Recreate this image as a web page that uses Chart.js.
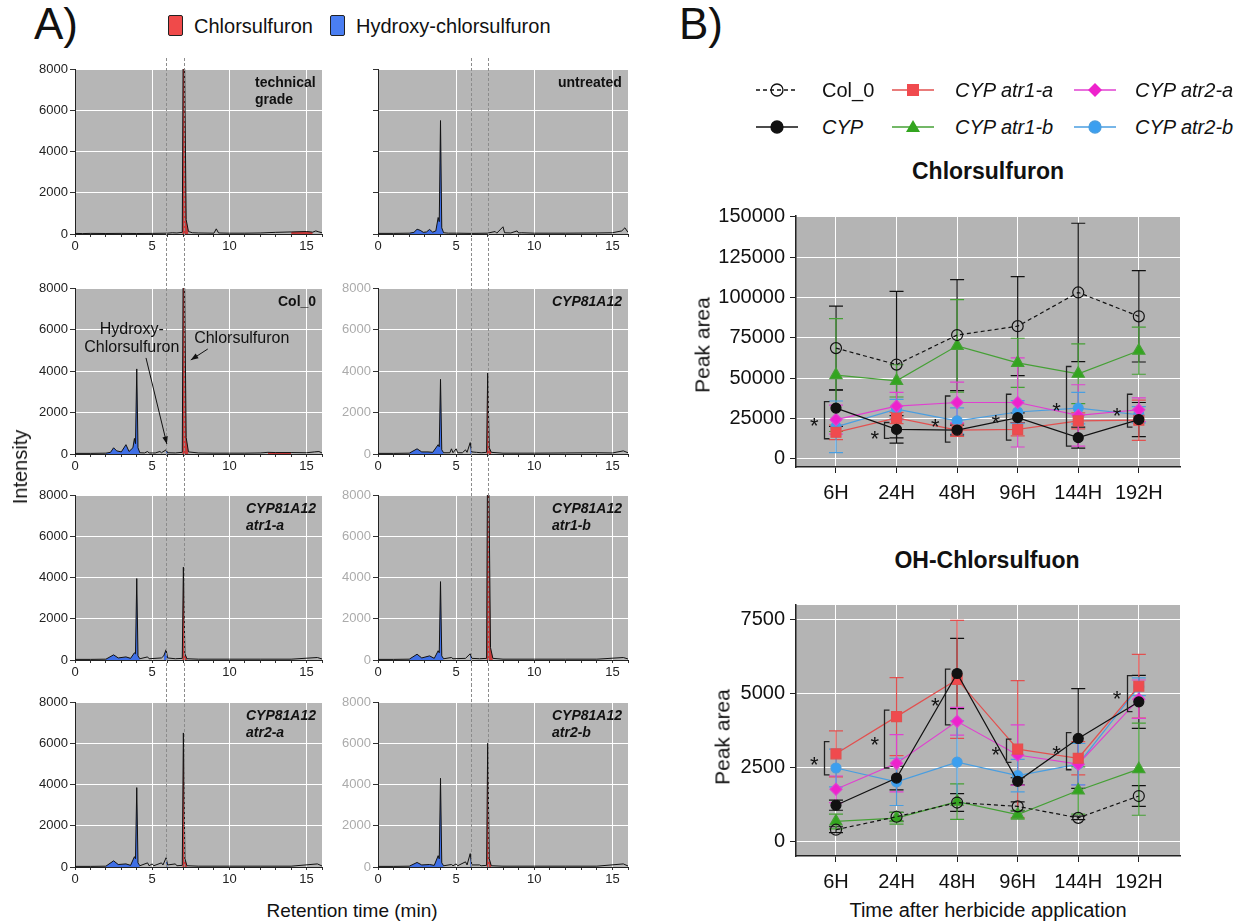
<!DOCTYPE html>
<html>
<head>
<meta charset="utf-8">
<script src="https://cdn.jsdelivr.net/npm/chart.js@4.4.1/dist/chart.umd.min.js"></script>
<style>
  body { margin: 0; background: #fff; }
  #fig { position: relative; width: 1241px; height: 924px; overflow: hidden; font-family: "Liberation Sans", Arial, sans-serif; color: #111; }
  #fig canvas { position: absolute; }
  .t { position: absolute; white-space: nowrap; line-height: 1; }
  .lab { position: absolute; font-weight: bold; font-size: 14px; line-height: 17px; text-align: left; }
  .rot { transform: translate(-50%, -50%) rotate(-90deg); }
  .ctr { transform: translate(-50%, -50%); }
</style>
</head>
<body>
<div id="fig"></div>
<script>
const FONT = '"Liberation Sans", Arial, sans-serif';

// ---------- panel A : chromatograms (time in min, intensity) ----------
const tgTrace = [[0,30],[0.5,20],[1,30],[2,25],[3,30],[4,25],[5,30],[6,40],[6.3,60],[6.6,50],[6.95,80],[7.0,8200],[7.1,8200],[7.2,700],[7.35,120],[7.6,60],[8,50],[9,40],[9.15,250],[9.3,50],[10,40],[11,40],[12,50],[13,80],[14,100],[15,120],[15.4,90],[15.6,150],[15.8,100],[16,60]];
const untreatedTrace = [[0,30],[1,30],[2,40],[2.3,80],[2.5,230],[2.7,180],[2.9,80],[3.1,100],[3.3,220],[3.5,90],[3.7,150],[3.85,800],[3.92,600],[4.0,5500],[4.08,300],[4.2,60],[4.5,40],[5,40],[6,30],[7,40],[7.5,120],[7.6,40],[8.0,350],[8.1,60],[8.5,50],[8.9,150],[9.0,50],[9.2,60],[10,40],[12,40],[14,50],[15,60],[15.6,150],[15.8,300],[16,80]];
const col0Trace = [[0,30],[1,30],[2,40],[2.3,80],[2.5,300],[2.7,150],[3.0,100],[3.3,450],[3.5,120],[3.75,300],[3.85,750],[3.92,500],[4.0,4100],[4.08,300],[4.2,60],[4.5,50],[4.7,120],[4.8,50],[5.2,50],[5.5,120],[5.6,60],[5.9,200],[6.0,60],[6.5,50],[6.95,80],[7.0,8200],[7.1,8200],[7.2,800],[7.35,100],[8,50],[9,40],[10,40],[11,40],[12,50],[12.5,80],[13,70],[14,70],[15,60],[15.5,100],[15.8,120],[16,50]];
const cypTrace = [[0,30],[1,30],[2,40],[2.5,250],[2.8,100],[3.2,100],[3.5,80],[3.85,450],[3.92,350],[4.0,3600],[4.08,200],[4.2,60],[4.6,60],[4.7,250],[4.8,60],[5.0,250],[5.1,60],[5.4,60],[5.6,200],[5.7,80],[5.9,550],[6.0,100],[6.3,80],[6.6,60],[6.95,80],[7.02,3900],[7.12,300],[7.25,80],[8,40],[10,40],[12,50],[14,60],[15,50],[15.7,150],[16,60]];
const atr1aTrace = [[0,30],[1,30],[2,40],[2.5,250],[2.8,100],[3.3,150],[3.6,80],[3.85,350],[3.92,300],[4.0,3950],[4.08,200],[4.2,60],[4.7,150],[4.8,60],[5.6,100],[5.75,200],[5.9,500],[6.0,100],[6.5,60],[6.95,80],[7.02,4500],[7.12,300],[7.25,60],[8,40],[10,40],[12,40],[14,40],[15.7,120],[16,50]];
const atr1bTrace = [[0,30],[1,30],[2,40],[2.5,280],[2.8,100],[3.3,200],[3.6,80],[3.85,450],[3.92,350],[4.0,3800],[4.08,200],[4.2,60],[4.7,120],[4.8,60],[5.6,80],[5.9,300],[6.0,80],[6.5,60],[6.95,80],[7.0,8200],[7.1,8200],[7.2,600],[7.35,80],[8,40],[10,40],[12,40],[14,40],[15.7,120],[16,50]];
const atr2aTrace = [[0,30],[1,30],[2,40],[2.5,300],[2.8,120],[3.3,150],[3.6,80],[3.85,500],[3.92,400],[4.0,3850],[4.08,200],[4.2,60],[4.7,200],[4.8,60],[5.0,150],[5.1,60],[5.6,200],[5.7,100],[5.9,450],[6.0,100],[6.5,150],[6.6,60],[6.95,80],[7.02,6500],[7.12,400],[7.25,60],[8,40],[10,40],[12,40],[14,40],[15.7,150],[16,50]];
const atr2bTrace = [[0,30],[1,30],[2,40],[2.5,220],[2.8,100],[3.3,120],[3.6,80],[3.85,550],[3.92,400],[4.0,4300],[4.08,200],[4.2,60],[4.7,120],[4.8,60],[5.0,150],[5.1,60],[5.6,250],[5.7,100],[5.9,650],[6.0,100],[6.5,100],[6.6,60],[6.95,80],[7.02,6000],[7.12,400],[7.25,60],[8,40],[10,40],[12,40],[14,40],[15.7,150],[16,50]];

const minuteTicks = [0,1,2,3,4,5,6,7,8,9,10,11,12,13,14,15,16];
const retLabelTicks = [0, 5, 10, 15];
const intensityTicks = [0, 2000, 4000, 6000, 8000];
const refTimes = [5.92, 7.05];

// ---------- panel B : peak areas ----------
const times = ['6H', '24H', '48H', '96H', '144H', '192H'];
const seriesNames = ['Col_0', 'CYP', 'CYP atr1-a', 'CYP atr1-b', 'CYP atr2-a', 'CYP atr2-b'];

const col0Ch = [68700, 58500, 76800, 82300, 103200, 88400];
const col0ChSd = [26000, 45400, 34400, 30700, 42900, 28300];
const cypCh = [31500, 18300, 17900, 25600, 13200, 24400];
const cypChSd = [11400, 8500, 3000, 3000, 6500, 10600];
const a1aCh = [16500, 25400, 17900, 18300, 23600, 24000];
const a1aChSd = [4500, 3500, 4000, 4000, 5000, 12500];
const a1bCh = [52000, 48400, 70100, 59600, 52800, 67100];
const a1bChSd = [35000, 10000, 28700, 15200, 18500, 14600];
const a2aCh = [24400, 32700, 35000, 35000, 27000, 30500];
const a2aChSd = [9000, 8500, 12600, 27600, 19000, 7300];
const a2bCh = [19900, 30900, 23600, 29100, 31500, 27400];
const a2bChSd = [16000, 6000, 8000, 7000, 9800, 5000];

const col0OH = [390, 830, 1310, 1180, 790, 1530];
const col0OHSd = [100, 150, 300, 150, 60, 350];
const cypOH = [1220, 2140, 5680, 2030, 3480, 4720];
const cypOHSd = [170, 400, 1190, 120, 1690, 900];
const a1aOH = [2960, 4220, 5480, 3120, 2810, 5250];
const a1aOHSd = [780, 1320, 2000, 2320, 560, 1080];
const a1bOH = [670, 780, 1340, 900, 1720, 2440];
const a1bOHSd = [250, 200, 600, 150, 800, 1560];
const a2aOH = [1760, 2640, 4060, 2920, 2610, 4810];
const a2aOHSd = [450, 970, 470, 1020, 700, 650];
const a2bOH = [2480, 2010, 2680, 2220, 2610, 5230];
const a2bOHSd = [640, 800, 1400, 550, 700, 300];

const chTicks = [0, 25000, 50000, 75000, 100000, 125000, 150000];
const ohTicks = [0, 2500, 5000, 7500];

// significance: [time index, bracket low, bracket high, asterisk y]
const sigCh = [[0, 12500, 35500, 23800], [1, 12800, 22600, 15800], [2, 10400, 39000, 23200], [3, 11600, 40100, 25600], [4, 8000, 57300, 33000], [5, 19700, 40100, 29900]];
const sigOH = [[0, 2250, 3370, 2760], [1, 2480, 4440, 3420], [2, 3940, 5830, 4750], [3, 2670, 3460, 3090], [4, 2420, 3680, 3140], [5, 4390, 5610, 4980]];

const seriesStyle = [
  { line: '#111', fill: 'rgba(0,0,0,0)', shape: 'circle', r: 5.5, dash: [4, 3] },
  { line: '#111', fill: '#111', shape: 'circle', r: 5 },
  { line: '#e2504f', fill: '#f04a4e', shape: 'rect', r: 7 },
  { line: '#45a035', fill: '#33a51f', shape: 'triangle', r: 7 },
  { line: '#e040d0', fill: '#ee22cc', shape: 'rectRot', r: 6 },
  { line: '#4a9ee0', fill: '#3b9ff0', shape: 'circle', r: 5 },
];

const fig = document.getElementById('fig');

function canvasAt(left, top, w, h) {
  const c = document.createElement('canvas');
  c.width = w; c.height = h;
  c.style.left = left + 'px'; c.style.top = top + 'px';
  c.style.width = w + 'px'; c.style.height = h + 'px';
  fig.appendChild(c);
  return c;
}

function text(html, left, top, style, cls) {
  const d = document.createElement('div');
  d.className = cls || 't';
  d.innerHTML = html;
  d.style.left = left + 'px';
  d.style.top = top + 'px';
  Object.assign(d.style, style || {});
  fig.appendChild(d);
  return d;
}

// ---------- plugins ----------
const plotBg = {
  id: 'plotBg',
  beforeDraw(chart, args, opts) {
    const { ctx, chartArea: a } = chart;
    ctx.save();
    ctx.fillStyle = opts.color;
    ctx.fillRect(a.left, a.top, a.width, a.height);
    ctx.restore();
  }
};

const refLines = {
  id: 'refLines',
  afterDatasetsDraw(chart, args, opts) {
    const { ctx, scales: { x } } = chart;
    ctx.save();
    ctx.strokeStyle = '#8c8c8c';
    ctx.lineWidth = 1;
    ctx.setLineDash([3, 2]);
    opts.times.forEach(t => {
      const px = Math.round(x.getPixelForValue(t)) + 0.5;
      ctx.beginPath();
      ctx.moveTo(px, 0);
      ctx.lineTo(px, opts.toAxis ? chart.chartArea.bottom : chart.height);
      ctx.stroke();
    });
    ctx.restore();
  }
};

const notes = {
  id: 'notes',
  afterDatasetsDraw(chart, args, opts) {
    if (!opts.texts) return;
    const { ctx, scales: { x, y } } = chart;
    ctx.save();
    ctx.fillStyle = '#111';
    ctx.strokeStyle = '#111';
    ctx.font = '16px ' + FONT;
    ctx.textAlign = 'center';
    ctx.textBaseline = 'middle';
    opts.texts.forEach(([s, tx, ty]) => ctx.fillText(s, x.getPixelForValue(tx), y.getPixelForValue(ty)));
    opts.arrows.forEach(([x1, y1, x2, y2]) => {
      const ax = x.getPixelForValue(x1), ay = y.getPixelForValue(y1);
      const bx = x.getPixelForValue(x2), by = y.getPixelForValue(y2);
      const ang = Math.atan2(by - ay, bx - ax);
      ctx.lineWidth = 1;
      ctx.beginPath(); ctx.moveTo(ax, ay); ctx.lineTo(bx, by); ctx.stroke();
      ctx.beginPath();
      ctx.moveTo(bx, by);
      ctx.lineTo(bx - 8 * Math.cos(ang - 0.35), by - 8 * Math.sin(ang - 0.35));
      ctx.lineTo(bx - 8 * Math.cos(ang + 0.35), by - 8 * Math.sin(ang + 0.35));
      ctx.closePath(); ctx.fill();
    });
    ctx.restore();
  }
};

const errBars = {
  id: 'errBars',
  beforeDatasetsDraw(chart) {
    const { ctx, chartArea: a, scales: { x, y } } = chart;
    ctx.save();
    ctx.beginPath(); ctx.rect(a.left, a.top, a.width, a.height); ctx.clip();
    chart.data.datasets.forEach(ds => {
      ctx.strokeStyle = ds.borderColor;
      ctx.lineWidth = 1.2;
      ds.data.forEach((p, i) => {
        const px = x.getPixelForValue(p.x);
        const top = y.getPixelForValue(p.y + ds.sd[i]);
        const bot = y.getPixelForValue(p.y - ds.sd[i]);
        ctx.beginPath();
        ctx.moveTo(px, top); ctx.lineTo(px, bot);
        ctx.moveTo(px - 7, top); ctx.lineTo(px + 7, top);
        ctx.moveTo(px - 7, bot); ctx.lineTo(px + 7, bot);
        ctx.stroke();
      });
    });
    ctx.restore();
  }
};

const sigMarks = {
  id: 'sigMarks',
  afterDatasetsDraw(chart, args, opts) {
    const { ctx, scales: { x, y } } = chart;
    ctx.save();
    ctx.strokeStyle = '#222';
    ctx.fillStyle = '#111';
    ctx.lineWidth = 1.3;
    ctx.font = '22px ' + FONT;
    ctx.textAlign = 'center';
    ctx.textBaseline = 'middle';
    opts.marks.forEach(([i, lo, hi, sy]) => {
      const bx = Math.round(x.getPixelForValue(i - 0.2)) + 0.5;
      const yl = y.getPixelForValue(lo), yh = y.getPixelForValue(hi);
      ctx.beginPath();
      ctx.moveTo(bx + 5, yh); ctx.lineTo(bx, yh); ctx.lineTo(bx, yl); ctx.lineTo(bx + 5, yl);
      ctx.stroke();
      ctx.fillText('*', x.getPixelForValue(i - 0.36), y.getPixelForValue(sy) + 6);
    });
    ctx.restore();
  }
};

// ---------- panel A layout ----------
const colLeft = [75, 378], colW = [247, 250];
const rowTop = [69, 288, 495, 702], rowH = [165, 166, 165, 165];
const yAxisW = 52, xAxisH = 24;

const chromPanels = [
  { trace: tgTrace, blue: [], red: [[6.9, 7.4], [13.5, 15.5]], yLab: 1, notes: {} },
  { trace: untreatedTrace, blue: [[2.0, 4.25]], red: [], yLab: 0, notes: {} },
  { trace: col0Trace, blue: [[2.0, 4.25], [5.75, 6.05]], red: [[6.9, 7.4], [12.3, 14.5]], yLab: 1,
    notes: { texts: [['Hydroxy-', 3.68, 5980], ['Chlorsulfuron', 3.68, 5110], ['Chlorsulfuron', 10.8, 5540]],
             arrows: [[4.6, 4630, 5.95, 480], [8.6, 5060, 7.5, 4530]] } },
  { trace: cypTrace, blue: [[2.0, 4.25], [5.75, 6.05]], red: [[6.9, 7.3]], yLab: 2, notes: {} },
  { trace: atr1aTrace, blue: [[2.0, 4.25], [5.7, 6.05]], red: [[6.9, 7.3]], yLab: 1, notes: {} },
  { trace: atr1bTrace, blue: [[2.0, 4.25], [5.75, 6.05]], red: [[6.9, 7.4]], yLab: 2, notes: {} },
  { trace: atr2aTrace, blue: [[2.0, 4.25], [5.75, 6.05]], red: [[6.9, 7.3]], yLab: 1, notes: {} },
  { trace: atr2bTrace, blue: [[2.0, 4.25], [5.75, 6.05]], red: [[6.9, 7.3]], yLab: 2, notes: {} },
];

chromPanels.forEach((p, k) => {
  const r = Math.floor(k / 2), c = k % 2;
  const plotW = colW[c], plotH = rowH[r];
  const pad = r === 0 ? 11 : rowTop[r] - (rowTop[r - 1] + rowH[r - 1] + xAxisH);
  const cv = canvasAt(colLeft[c] - yAxisW, rowTop[r] - pad, yAxisW + plotW + 8, pad + plotH + xAxisH);
  const pts = p.trace.map(([x, y]) => ({ x, y }));
  const seg = (wins, color) => wins.map(([a, b]) => ({
    data: pts.filter(q => q.x >= a && q.x <= b),
    fill: 'origin', backgroundColor: color, borderWidth: 0, pointRadius: 0
  }));
  const yColor = ['rgba(0,0,0,0)', '#222', '#ababab'][p.yLab];
  new Chart(cv, {
    type: 'line',
    data: {
      datasets: [
        { data: pts, borderColor: '#111', borderWidth: 1, pointRadius: 0, fill: false, tension: 0 },
        ...seg(p.blue, '#3f6fe6'),
        ...seg(p.red, '#c83a3a'),
      ]
    },
    plugins: [plotBg, refLines, notes],
    options: {
      responsive: false, animation: false, events: [],
      layout: { padding: { top: pad, right: 8, left: 0, bottom: 0 } },
      plugins: {
        legend: { display: false }, tooltip: { enabled: false },
        plotBg: { color: '#b6b6b6' },
        refLines: { times: refTimes, toAxis: r === 3 },
        notes: p.notes
      },
      scales: {
        x: {
          type: 'linear', min: 0, max: 16,
          afterFit: s => { s.height = xAxisH; },
          afterBuildTicks: s => { s.ticks = minuteTicks.map(v => ({ value: v })); },
          grid: { color: g => (g.tick && g.tick.value > 0 && retLabelTicks.includes(g.tick.value)) ? '#ffffff' : 'rgba(0,0,0,0)', tickLength: 3, tickColor: '#333' },
          border: { color: '#222', width: 1 },
          ticks: { autoSkip: false, maxRotation: 0, padding: 2, color: '#222', font: { size: 13, family: FONT },
                   callback: v => retLabelTicks.includes(v) ? String(v) : '' }
        },
        y: {
          min: 0, max: 8000,
          afterFit: s => { s.width = yAxisW; },
          afterBuildTicks: s => { s.ticks = intensityTicks.map(v => ({ value: v })); },
          grid: { color: g => (g.tick && g.tick.value > 0) ? '#ffffff' : 'rgba(0,0,0,0)', tickLength: 5, tickColor: '#333' },
          border: { color: '#222', width: 1 },
          ticks: { padding: 2, color: yColor, font: { size: 13, family: FONT }, callback: v => String(v) }
        }
      }
    }
  });
});

// panel A texts
text('A)', 34, 2, { fontSize: '44px' });
text('', 168, 15, { width: '13px', height: '19px', background: '#f04a4a', border: '1.5px solid #222', borderRadius: '2px' });
text('Chlorsulfuron', 194, 16, { fontSize: '20px' });
text('', 330, 15, { width: '13px', height: '19px', background: '#4a7ef2', border: '1.5px solid #222', borderRadius: '2px' });
text('Hydroxy-chlorsulfuron', 356, 16, { fontSize: '20px' });
text('Intensity', 20, 467, { fontSize: '20px' }, 't rot');
text('Retention time (min)', 352, 910, { fontSize: '19px' }, 't ctr');

const panelLabels = [
  'technical<br>grade', 'untreated', 'Col_0', '<i>CYP81A12</i>',
  '<i>CYP81A12<br>atr1-a</i>', '<i>CYP81A12<br>atr1-b</i>', '<i>CYP81A12<br>atr2-a</i>', '<i>CYP81A12<br>atr2-b</i>'
];
panelLabels.forEach((s, k) => {
  const r = Math.floor(k / 2), c = k % 2;
  const d = text(s, 0, rowTop[r] + 5, {}, 'lab');
  d.style.left = (colLeft[c] + colW[c] - 6 - d.offsetWidth) + 'px';
});

// ---------- panel B ----------
function peakChart(top, means, sds, ticks, yMin, yMax, sig) {
  const plotTop = 13, plotH = 255, yW = 96, xH = 40;
  const cv = canvasAt(700, top, yW + 384 + 12, plotTop + plotH + xH);
  new Chart(cv, {
    type: 'line',
    data: {
      datasets: means.map((m, k) => {
        const st = seriesStyle[k];
        return {
          label: seriesNames[k],
          data: m.map((v, i) => ({ x: i, y: v })),
          sd: sds[k],
          borderColor: st.line, borderWidth: 1.2, borderDash: st.dash || [],
          pointStyle: st.shape, pointRadius: st.r,
          pointBackgroundColor: st.fill, pointBorderColor: st.line, pointBorderWidth: 1.2,
          fill: false, tension: 0
        };
      })
    },
    plugins: [plotBg, errBars, sigMarks],
    options: {
      responsive: false, animation: false, events: [],
      layout: { padding: { top: plotTop, right: 12, left: 0, bottom: 0 } },
      plugins: {
        legend: { display: false }, tooltip: { enabled: false },
        plotBg: { color: '#b4b4b4' },
        sigMarks: { marks: sig }
      },
      scales: {
        x: {
          type: 'linear', min: -0.66, max: 5.68,
          afterFit: s => { s.height = xH; },
          afterBuildTicks: s => { s.ticks = times.map((t, i) => ({ value: i })); },
          grid: { color: '#ffffff', tickLength: 6, tickColor: '#222' },
          border: { color: '#222', width: 1.5 },
          ticks: { autoSkip: false, maxRotation: 0, padding: 8, color: '#111', font: { size: 20, family: FONT },
                   callback: v => times[v] }
        },
        y: {
          min: yMin, max: yMax,
          afterFit: s => { s.width = yW; },
          afterBuildTicks: s => { s.ticks = ticks.map(v => ({ value: v })); },
          grid: { color: '#ffffff', tickLength: 6, tickColor: '#222' },
          border: { color: '#222', width: 1.5 },
          ticks: { padding: 5, color: '#111', font: { size: 20, family: FONT }, callback: v => String(v) }
        }
      }
    }
  });
}

peakChart(199, [col0Ch, cypCh, a1aCh, a1bCh, a2aCh, a2bCh],
  [col0ChSd, cypChSd, a1aChSd, a1bChSd, a2aChSd, a2bChSd], chTicks, -5000, 150600, sigCh);
peakChart(588, [col0OH, cypOH, a1aOH, a1bOH, a2aOH, a2bOH],
  [col0OHSd, cypOHSd, a1aOHSd, a1bOHSd, a2aOHSd, a2bOHSd], ohTicks, -500, 8000, sigOH);

text('B)', 679, 2, { fontSize: '44px' });
text('Chlorsulfuron', 988, 171, { fontSize: '23px', fontWeight: 'bold' }, 't ctr');
text('OH-Chlorsulfuon', 987, 560, { fontSize: '23px', fontWeight: 'bold' }, 't ctr');
text('Peak area', 702, 345, { fontSize: '21px' }, 't rot');
text('Peak area', 722, 737, { fontSize: '21px' }, 't rot');
text('Time after herbicide application', 988, 910, { fontSize: '20px' }, 't ctr');

// legend of panel B
function markerSvg(st, cx, cy) {
  const f = st.fill, s = st.line;
  if (st.shape === 'rect') return `<rect x="${cx - 6}" y="${cy - 6}" width="12" height="12" fill="${f}"/>`;
  if (st.shape === 'triangle') return `<polygon points="${cx},${cy - 7} ${cx + 7},${cy + 5} ${cx - 7},${cy + 5}" fill="${f}"/>`;
  if (st.shape === 'rectRot') return `<polygon points="${cx},${cy - 7} ${cx + 7},${cy} ${cx},${cy + 7} ${cx - 7},${cy}" fill="${f}"/>`;
  return `<circle cx="${cx}" cy="${cy}" r="6" fill="${f}" stroke="${s}" stroke-width="1.3"/>`;
}
const legSym = [755, 891, 1073], legTxt = [822, 955, 1135], legRow = [90, 127];
seriesNames.forEach((name, k) => {
  const st = seriesStyle[k], col = Math.floor(k / 2), row = k % 2;
  const dash = st.dash ? ` stroke-dasharray="${st.dash.join(',')}"` : '';
  const svg = `<svg width="44" height="20" viewBox="0 0 44 20"><line x1="1" y1="10" x2="43" y2="10" stroke="${st.line}" stroke-width="1.5"${dash}/>${markerSvg(st, 22, 10)}</svg>`;
  text(svg, legSym[col], legRow[row] - 10, {});
  text(k === 0 ? name : '<i>' + name + '</i>', legTxt[col], legRow[row] - 10, { fontSize: '20px' });
});
</script>
</body>
</html>
